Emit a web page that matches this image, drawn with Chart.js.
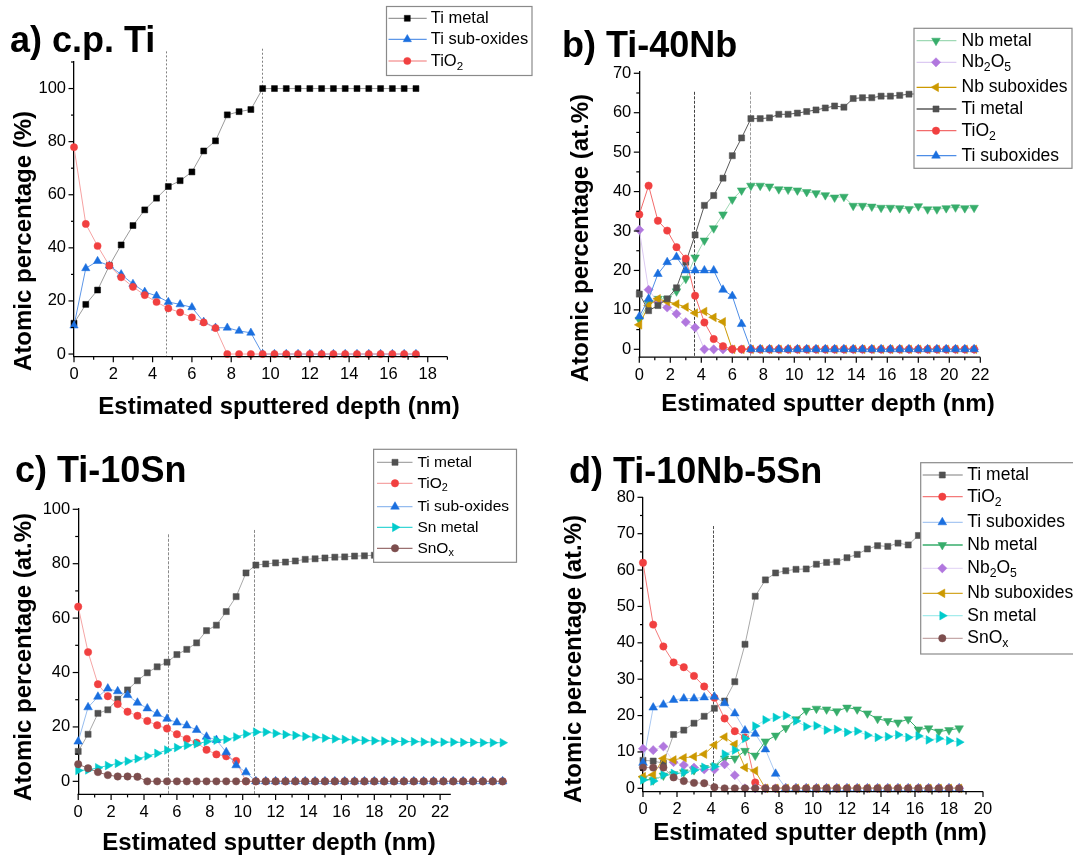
<!DOCTYPE html>
<html>
<head>
<meta charset="utf-8">
<script src="https://cdn.jsdelivr.net/npm/chart.js@4.4.1/dist/chart.umd.min.js"></script>
<style>
  html, body { margin: 0; padding: 0; background: #fff; }
  #fig { position: relative; width: 1073px; height: 859px; overflow: hidden; background: #fff; }
  #fig canvas { position: absolute; }
</style>
</head>
<body>
<div id="fig">
  <canvas id="pa" width="536" height="430" style="left:0px;top:0px;width:536px;height:430px"></canvas>
  <canvas id="pb" width="537" height="430" style="left:536px;top:0px;width:537px;height:430px"></canvas>
  <canvas id="pc" width="536" height="429" style="left:0px;top:430px;width:536px;height:429px"></canvas>
  <canvas id="pd" width="537" height="429" style="left:536px;top:430px;width:537px;height:429px"></canvas>
</div>
<script>
// ---------- depth axes (nm) ----------
const depthA = [0, 0.6, 1.2, 1.8, 2.4, 3, 3.6, 4.2, 4.8, 5.4, 6, 6.6, 7.2, 7.8, 8.4, 9, 9.6, 10.2, 10.8, 11.4,
  12, 12.6, 13.2, 13.8, 14.4, 15, 15.6, 16.2, 16.8, 17.4];
const depthB = [0, 0.6, 1.2, 1.8, 2.4, 3, 3.6, 4.2, 4.8, 5.4, 6, 6.6, 7.2, 7.8, 8.4, 9, 9.6, 10.2, 10.8, 11.4,
  12, 12.6, 13.2, 13.8, 14.4, 15, 15.6, 16.2, 16.8, 17.4, 18, 18.6, 19.2, 19.8, 20.4, 21, 21.6];
const depthC = [0, 0.6, 1.2, 1.8, 2.4, 3, 3.6, 4.2, 4.8, 5.4, 6, 6.6, 7.2, 7.8, 8.4, 9, 9.6, 10.2, 10.8, 11.4,
  12, 12.6, 13.2, 13.8, 14.4, 15, 15.6, 16.2, 16.8, 17.4, 18, 18.6, 19.2, 19.8, 20.4, 21, 21.6,
  22.2, 22.8, 23.4, 24, 24.6, 25.2, 25.8];
const depthD = [0, 0.6, 1.2, 1.8, 2.4, 3, 3.6, 4.2, 4.8, 5.4, 6, 6.6, 7.2, 7.8, 8.4, 9, 9.6, 10.2, 10.8, 11.4,
  12, 12.6, 13.2, 13.8, 14.4, 15, 15.6, 16.2, 16.8, 17.4, 18, 18.6];

// ---------- a) c.p. Ti ----------
const tiMetalA = [11.6, 18.7, 24.1, 33.3, 41.1, 48.4, 54.3, 58.7, 63.1, 65.3, 68.6, 76.5, 80.3, 90.1, 91.3, 92.1,
  100, 100, 100, 100, 100, 100, 100, 100, 100, 100, 100, 100, 100, 100];
const tiSubA = [10.7, 32.3, 35.0, 33.3, 30.0, 26.4, 23.4, 21.9, 19.6, 18.7, 17.6, 12.1, 9.9, 9.9, 8.7, 8.0,
  0, 0, 0, 0, 0, 0, 0, 0, 0, 0, 0, 0, 0, 0];
const tio2A = [77.9, 49.0, 40.7, 33.3, 28.9, 25.3, 22.2, 19.6, 17.2, 15.7, 13.8, 11.9, 9.8,
  0, 0, 0, 0, 0, 0, 0, 0, 0, 0, 0, 0, 0, 0, 0, 0, 0];

// ---------- b) Ti-40Nb ----------
const nbMetalB = [7.5, 11.7, 12.8, 12.8, 14.7, 17.9, 23.3, 27.6, 30.7, 34.2, 38.0, 40.3, 41.5, 41.5, 41.3, 40.6,
  40.5, 40.3, 39.9, 39.6, 39.1, 38.5, 38.7, 36.4, 36.4, 36.2, 35.9, 35.9, 35.8, 35.6, 36.3, 35.5, 35.5, 35.8,
  36.0, 35.8, 35.9];
const nb2o5B = [30.3, 15.1, 12.0, 10.6, 9.0, 6.9, 5.5, 0, 0, 0, 0, 0, 0, 0, 0, 0, 0, 0, 0, 0, 0, 0, 0, 0, 0, 0,
  0, 0, 0, 0, 0, 0, 0, 0, 0, 0, 0];
const nbSubB = [6.2, 11.1, 12.8, 12.1, 11.5, 10.7, 9.2, 9.6, 8.1, 7.0, 0, 0, 0, 0, 0, 0, 0, 0, 0, 0, 0, 0, 0, 0,
  0, 0, 0, 0, 0, 0, 0, 0, 0, 0, 0, 0, 0];
const tiMetalB = [14.0, 9.8, 11.1, 12.8, 15.6, 22.1, 29.0, 36.5, 39.0, 43.4, 49.1, 53.6, 58.5, 58.5, 58.7, 59.6,
  59.6, 59.9, 60.3, 60.7, 61.2, 61.7, 61.4, 63.6, 63.8, 63.8, 64.2, 64.2, 64.4, 64.7, 64.8, 65.0, 65.1, 65.2,
  65.3, 65.4, 65.5];
const tio2B = [34.2, 41.5, 32.6, 30.1, 25.9, 23.0, 13.6, 6.8, 2.6, 0.8, 0, 0, 0, 0, 0, 0, 0, 0, 0, 0, 0, 0, 0, 0,
  0, 0, 0, 0, 0, 0, 0, 0, 0, 0, 0, 0, 0];
const tiSubB = [8.3, 12.8, 19.1, 22.1, 23.4, 20.0, 20.0, 20.0, 20.0, 15.1, 13.5, 6.4, 0, 0, 0, 0, 0, 0, 0, 0, 0,
  0, 0, 0, 0, 0, 0, 0, 0, 0, 0, 0, 0, 0, 0, 0, 0];

// ---------- c) Ti-10Sn ----------
const tiMetalC = [11.0, 17.3, 25.0, 26.3, 30.2, 33.6, 37.0, 39.9, 42.1, 43.8, 46.6, 48.5, 50.9, 55.4, 57.4, 62.4,
  67.9, 76.6, 79.5, 79.9, 80.3, 80.6, 81.0, 81.6, 81.8, 82.1, 82.4, 82.5, 82.8, 82.9, 83.1, 83.2, 83.3, 83.4,
  83.5, 83.6, 83.7, 83.8, 83.9, 84.0, 84.0, 84.1, 84.2, 84.2];
const tio2C = [64.2, 47.5, 35.7, 31.3, 28.4, 25.6, 24.1, 22.2, 20.6, 19.4, 17.3, 15.6, 14.2, 11.6, 9.9, 9.2, 7.5,
  0, 0, 0, 0, 0, 0, 0, 0, 0, 0, 0, 0, 0, 0, 0, 0, 0, 0, 0, 0, 0, 0, 0, 0, 0, 0, 0];
const tiSubC = [14.6, 27.2, 31.1, 34.1, 33.1, 31.7, 28.9, 26.8, 24.8, 23.0, 21.6, 20.5, 18.9, 16.4, 15.2, 10.7,
  5.9, 3.3, 0, 0, 0, 0, 0, 0, 0, 0, 0, 0, 0, 0, 0, 0, 0, 0, 0, 0, 0, 0, 0, 0, 0, 0, 0, 0];
const snMetalC = [4.0, 4.2, 5.0, 5.8, 6.6, 7.4, 8.3, 9.3, 10.3, 11.5, 12.4, 13.2, 13.8, 14.6, 15.1, 15.4, 16.3,
  17.4, 18.1, 18.1, 17.6, 17.2, 16.9, 16.5, 16.2, 15.9, 15.6, 15.4, 15.2, 15.0, 14.9, 14.8, 14.7, 14.6, 14.6,
  14.5, 14.4, 14.4, 14.4, 14.3, 14.3, 14.2, 14.2, 14.2];
const snOxC = [6.3, 4.8, 3.4, 2.3, 1.8, 1.8, 1.7, 0, 0, 0, 0, 0, 0, 0, 0, 0, 0, 0, 0, 0, 0, 0, 0, 0, 0, 0, 0, 0,
  0, 0, 0, 0, 0, 0, 0, 0, 0, 0, 0, 0, 0, 0, 0, 0];

// ---------- d) Ti-10Nb-5Sn ----------
const tiMetalD = [7.7, 7.5, 6.9, 14.8, 16.0, 17.9, 19.8, 22.0, 24.0, 29.3, 39.6, 52.8, 57.3, 59.2, 59.8, 60.2,
  60.3, 61.6, 62.1, 62.3, 63.4, 64.3, 65.8, 66.7, 66.5, 67.4, 66.9, 69.5, 69.8, 70.2, 70.5, 70.9];
const tio2D = [62.0, 45.0, 39.0, 34.6, 33.3, 30.9, 28.0, 24.9, 19.2, 15.7, 14.0, 1.6, 0, 0, 0, 0, 0, 0, 0, 0, 0,
  0, 0, 0, 0, 0, 0, 0, 0, 0, 0, 0];
const tiSubD = [7.0, 22.2, 23.0, 24.3, 24.7, 24.7, 25.0, 25.2, 23.4, 20.6, 15.9, 15.0, 10.7, 4.0, 0, 0, 0, 0, 0,
  0, 0, 0, 0, 0, 0, 0, 0, 0, 0, 0, 0, 0];
const nbMetalD = [2.6, 2.2, 3.5, 3.9, 4.4, 5.0, 5.6, 6.1, 8.2, 8.2, 10.3, 9.0, 12.9, 14.5, 16.6, 19.0, 21.4, 21.9,
  21.7, 21.2, 22.2, 21.7, 20.6, 19.1, 18.5, 18.1, 19.0, 16.2, 16.5, 15.6, 16.0, 16.5];
const nb2o5D = [10.9, 10.5, 11.5, 7.2, 6.4, 5.7, 5.2, 5.2, 6.6, 3.6, 0, 0, 0, 0, 0, 0, 0, 0, 0, 0, 0, 0, 0, 0, 0,
  0, 0, 0, 0, 0, 0, 0];
const nbSubD = [3.2, 3.7, 8.2, 7.8, 8.4, 8.7, 9.4, 11.9, 14.1, 12.1, 5.7, 4.8, 0, 0, 0, 0, 0, 0, 0, 0, 0, 0, 0, 0,
  0, 0, 0, 0, 0, 0, 0, 0];
const snMetalD = [2.3, 2.0, 3.7, 4.1, 4.4, 5.0, 5.8, 6.0, 9.4, 10.5, 13.7, 17.1, 18.8, 19.5, 20.0, 18.5, 17.0,
  17.2, 16.0, 16.2, 15.4, 15.7, 14.6, 14.0, 14.2, 14.7, 14.0, 14.4, 13.3, 13.7, 13.1, 12.7];
const snOxD = [5.7, 5.7, 5.7, 3.0, 2.0, 1.5, 1.4, 0.3, 0, 0, 0, 0, 0, 0, 0, 0, 0, 0, 0, 0, 0, 0, 0, 0, 0, 0, 0, 0,
  0, 0, 0, 0];

// ---------- tick labels ----------
const xTicksA = [0, 2, 4, 6, 8, 10, 12, 14, 16, 18];
const yTicksA = [0, 20, 40, 60, 80, 100];
const xTicksB = [0, 2, 4, 6, 8, 10, 12, 14, 16, 18, 20, 22];
const yTicksB = [0, 10, 20, 30, 40, 50, 60, 70];
const xTicksC = [0, 2, 4, 6, 8, 10, 12, 14, 16, 18, 20, 22];
const yTicksC = [0, 20, 40, 60, 80, 100];
const xTicksD = [0, 2, 4, 6, 8, 10, 12, 14, 16, 18, 20];
const yTicksD = [0, 10, 20, 30, 40, 50, 60, 70, 80];

// ---------- styling ----------
const FONT = "'Liberation Sans', Arial, Helvetica, sans-serif";
const C = {
  ti: '#515151', tio2: '#F14040', tisub: '#1A6FDF', nb: '#37AD6B',
  nb2o5: '#B177DE', nbsub: '#CC9900', sn: '#00CBCC', snox: '#7D4E4E'
};
const MARK = {
  square: { pointStyle: 'rect', radius: 4.3, rotation: 0 },
  circle: { pointStyle: 'circle', radius: 3.7, rotation: 0 },
  up:     { pointStyle: 'triangle', radius: 5.0, rotation: 0 },
  down:   { pointStyle: 'triangle', radius: 5.0, rotation: 180 },
  left:   { pointStyle: 'triangle', radius: 5.0, rotation: 270 },
  right:  { pointStyle: 'triangle', radius: 5.0, rotation: 90 },
  diamond:{ pointStyle: 'rectRot', radius: 4.6, rotation: 0 }
};

function series(label, xs, ys, color, line, mark) {
  return { label, xs, ys, color, line, mark };
}

// minor ticks halfway between labelled ticks, plus one past the last when the axis reaches it
function minors(major, max) {
  const out = [];
  const step = major[1] - major[0];
  for (let i = 0; i < major.length; i++) {
    const m = major[i] + step / 2;
    if (m <= max + 1e-9) out.push(m);
  }
  return out;
}

// text with one-character subscripts written as _x
function drawRich(ctx, str, x, y, size, weight, align) {
  const parts = [];
  for (let i = 0; i < str.length; i++) {
    if (str[i] === '_') { parts.push({ t: str[i + 1], sub: true }); i++; }
    else if (parts.length && !parts[parts.length - 1].sub) parts[parts.length - 1].t += str[i];
    else parts.push({ t: str[i], sub: false });
  }
  const subSize = size * 0.7;
  let w = 0;
  parts.forEach(p => {
    ctx.font = `${weight} ${p.sub ? subSize : size}px ${FONT}`;
    p.w = ctx.measureText(p.t).width;
    w += p.w;
  });
  let cx = align === 'center' ? x - w / 2 : x;
  ctx.textAlign = 'left';
  ctx.textBaseline = 'middle';
  parts.forEach(p => {
    ctx.font = `${weight} ${p.sub ? subSize : size}px ${FONT}`;
    ctx.fillText(p.t, cx, p.sub ? y + size * 0.33 : y);
    cx += p.w;
  });
}

function drawMarker(ctx, mark, color, x, y) {
  ctx.save();
  ctx.fillStyle = color;
  ctx.strokeStyle = color;
  ctx.lineWidth = 0.5;
  Chart.helpers.drawPoint(ctx, { pointStyle: mark.pointStyle, radius: mark.radius, rotation: mark.rotation, borderWidth: 0.5 }, x, y);
  ctx.restore();
}

function buildPanel(p) {
  const n = p.series.length;
  const axisEnd = p.xAxisEnd !== undefined ? p.xAxisEnd : p.xMax;
  const datasets = p.series.map((s, i) => ({
    label: s.label,
    data: s.xs.map((x, k) => ({ x, y: s.ys[k] })),
    showLine: true,
    borderColor: s.line,
    borderWidth: 1,
    backgroundColor: s.color,
    pointBackgroundColor: s.color,
    pointBorderColor: s.color,
    pointBorderWidth: 0.5,
    pointStyle: s.mark.pointStyle,
    pointRadius: s.mark.radius,
    pointRotation: s.mark.rotation,
    pointHoverRadius: s.mark.radius,
    tension: 0,
    clip: false,
    order: n - i
  }));

  const decor = {
    id: 'decor_' + p.id,
    beforeDatasetsDraw(chart) {
      const { ctx, chartArea: a, scales: { x, y } } = chart;
      ctx.save();
      p.vlines.forEach(v => {
        const px = Math.round(x.getPixelForValue(v.x)) + 0.5;
        ctx.strokeStyle = v.color;
        ctx.lineWidth = 1;
        ctx.setLineDash(v.dash);
        ctx.beginPath();
        ctx.moveTo(px, y.getPixelForValue(v.top));
        ctx.lineTo(px, a.bottom);
        ctx.stroke();
      });
      ctx.restore();
    },
    afterDraw(chart) {
      const { ctx, chartArea: a, scales: { x, y } } = chart;
      ctx.save();
      // bottom axis line, which may stop short of the plotted data
      ctx.strokeStyle = '#000';
      ctx.lineWidth = 1.3;
      ctx.setLineDash([]);
      ctx.beginPath();
      ctx.moveTo(a.left - 0.65, a.bottom);
      ctx.lineTo(x.getPixelForValue(axisEnd), a.bottom);
      ctx.stroke();

      // outward tick marks
      ctx.lineWidth = 1.2;
      const tick = (x1, y1, x2, y2) => { ctx.beginPath(); ctx.moveTo(x1, y1); ctx.lineTo(x2, y2); ctx.stroke(); };
      p.xTicks.forEach(v => { const px = x.getPixelForValue(v); tick(px, a.bottom, px, a.bottom + 5.5); });
      minors(p.xTicks, axisEnd).forEach(v => { const px = x.getPixelForValue(v); tick(px, a.bottom, px, a.bottom + 3); });
      p.yTicks.forEach(v => { const py = y.getPixelForValue(v); tick(a.left, py, a.left - 5.5, py); });
      minors(p.yTicks, p.yMax).forEach(v => { const py = y.getPixelForValue(v); tick(a.left, py, a.left - 3, py); });

      // panel heading and axis titles
      ctx.fillStyle = '#000';
      ctx.font = `bold 36px ${FONT}`;
      ctx.textAlign = 'left';
      ctx.textBaseline = 'alphabetic';
      ctx.fillText(p.title.text, p.title.x, p.title.y);
      ctx.font = `bold 24px ${FONT}`;
      ctx.textAlign = 'center';
      ctx.textBaseline = 'middle';
      ctx.fillText(p.xTitle.text, p.xTitle.x, p.xTitle.y);
      ctx.save();
      ctx.translate(p.yTitle.x, p.yTitle.y);
      ctx.rotate(-Math.PI / 2);
      ctx.fillText(p.yTitle.text, 0, 0);
      ctx.restore();

      // legend box drawn over the plot
      const L = p.legend;
      ctx.fillStyle = '#fff';
      ctx.fillRect(L.box[0], L.box[1], L.box[2] - L.box[0], L.box[3] - L.box[1]);
      ctx.strokeStyle = '#8a8a8a';
      ctx.lineWidth = 1.2;
      ctx.strokeRect(L.box[0], L.box[1], L.box[2] - L.box[0], L.box[3] - L.box[1]);
      p.series.forEach((s, i) => {
        const ry = L.rows[i];
        ctx.strokeStyle = s.line;
        ctx.lineWidth = 1.3;
        ctx.beginPath(); ctx.moveTo(L.line[0], ry); ctx.lineTo(L.line[1], ry); ctx.stroke();
        drawMarker(ctx, s.mark, s.color, L.mark, ry);
        ctx.fillStyle = '#000';
        drawRich(ctx, s.label, L.text, ry, L.size, 'normal', 'left');
      });
      ctx.restore();
    }
  };

  const scaleBase = (min, max, ticks, isY, fitSize) => ({
    type: 'linear',
    min, max,
    grid: { display: false, drawTicks: false },
    border: { display: isY, color: '#000', width: 1.3 },
    ticks: {
      color: '#000',
      font: { family: FONT, size: 16.5 },
      padding: 8,
      autoSkip: false,
      maxRotation: 0
    },
    afterBuildTicks: (axis) => { axis.ticks = ticks.map(v => ({ value: v })); },
    afterFit: (axis) => { if (isY) axis.width = fitSize; else axis.height = fitSize; }
  });

  new Chart(document.getElementById(p.id), {
    type: 'scatter',
    data: { datasets },
    options: {
      responsive: false,
      animation: false,
      devicePixelRatio: 1,
      layout: { padding: p.pad },
      plugins: { legend: { display: false }, tooltip: { enabled: false }, title: { display: false } },
      scales: {
        x: scaleBase(p.xMin, p.xMax, p.xTicks, false, 60),
        y: scaleBase(p.yMin, p.yMax, p.yTicks, true, 74)
      }
    },
    plugins: [decor]
  });
}

const panels = [
  {
    id: 'pa', pad: { left: 0, top: 62, right: 88.6, bottom: 13.3 },
    xMin: 0, xMax: 19, yMin: -1, yMax: 110, xTicks: xTicksA, yTicks: yTicksA,
    title: { text: 'a) c.p. Ti', x: 10, y: 52 },
    yTitle: { text: 'Atomic percentage (%)', x: 24, y: 241 },
    xTitle: { text: 'Estimated sputtered depth (nm)', x: 279, y: 407 },
    legend: { box: [386.5, 6.5, 532, 75.5], rows: [18.3, 39.3, 61], line: [388.5, 426.7], mark: 407.3, text: 430.7, size: 16.5 },
    vlines: [{ x: 4.67, top: 114, color: '#808080', dash: [2, 2] }, { x: 9.57, top: 115, color: '#808080', dash: [2, 2] }],
    series: [
      series('Ti metal', depthA, tiMetalA, '#000000', '#9a9a9a', { ...MARK.square, radius: 4.2 }),
      series('Ti sub-oxides', depthA, tiSubA, C.tisub, '#5e97e8', { ...MARK.up, radius: 4.8 }),
      series('TiO_2', depthA, tio2A, C.tio2, '#f6a2a2', { ...MARK.circle, radius: 3.6 })
    ]
  },
  {
    id: 'pb', pad: { left: 29.3, top: 71.7, right: 92.7, bottom: 12.8 },
    xMin: 0, xMax: 22, yMin: -2, yMax: 70.4, xTicks: xTicksB, yTicks: yTicksB,
    title: { text: 'b) Ti-40Nb', x: 26, y: 57 },
    yTitle: { text: 'Atomic percentage (at.%)', x: 45, y: 238 },
    xTitle: { text: 'Estimated sputter depth (nm)', x: 292, y: 404 },
    legend: { box: [378, 28.3, 536, 168.3], rows: [40.7, 62.3, 87.3, 109, 130.7, 155.7], line: [380.6, 420.4], mark: 400, text: 425.5, size: 17.5 },
    vlines: [{ x: 3.55, top: 65.3, color: '#404040', dash: [3, 1.5] }, { x: 7.17, top: 65.3, color: '#9a9a9a', dash: [3, 1.5] }],
    series: [
      series('Nb metal', depthB, nbMetalB, C.nb, '#9fd9b5', MARK.down),
      series('Nb_2O_5', depthB, nb2o5B, C.nb2o5, '#dccaf2', MARK.diamond),
      series('Nb suboxides', depthB, nbSubB, C.nbsub, '#cc9900', MARK.left),
      series('Ti metal', depthB, tiMetalB, C.ti, '#5a5a5a', MARK.square),
      series('TiO_2', depthB, tio2B, C.tio2, '#f26b6b', MARK.circle),
      series('Ti suboxides', depthB, tiSubB, C.tisub, '#4d8de6', MARK.up)
    ]
  },
  {
    // plot area runs past the drawn axis so the deepest points stay visible
    id: 'pc', pad: { left: 4.2, top: 78.2, right: 23.5, bottom: 4.6 },
    xMin: 0, xMax: 26.4, xAxisEnd: 22.65, yMin: -4.8, yMax: 100.4, xTicks: xTicksC, yTicks: yTicksC,
    title: { text: 'c) Ti-10Sn', x: 15, y: 52 },
    yTitle: { text: 'Atomic percentage (at.%)', x: 24, y: 227 },
    xTitle: { text: 'Estimated sputter depth (nm)', x: 269, y: 413 },
    legend: { box: [373.6, 19.3, 516.5, 132.3], rows: [32.3, 53.3, 76.7, 97.3, 118.3], line: [377, 412.5], mark: 395, text: 417.4, size: 15.5 },
    vlines: [{ x: 5.44, top: 90.8, color: '#8a8a8a', dash: [3, 1.5] }, { x: 10.66, top: 92.4, color: '#8a8a8a', dash: [3, 1.5] }],
    series: [
      series('Ti metal', depthC, tiMetalC, C.ti, '#a8a8a8', MARK.square),
      series('TiO_2', depthC, tio2C, C.tio2, '#f5a5a5', MARK.circle),
      series('Ti sub-oxides', depthC, tiSubC, C.tisub, '#95bcef', MARK.up),
      series('Sn metal', depthC, snMetalC, C.sn, '#3ad6d6', MARK.right),
      series('SnO_x', depthC, snOxC, C.snox, '#9a7070', MARK.circle)
    ]
  },
  {
    id: 'pd', pad: { left: 33, top: 67.3, right: 90, bottom: 7.4 },
    xMin: 0, xMax: 20, yMin: -0.9, yMax: 80, xTicks: xTicksD, yTicks: yTicksD,
    title: { text: 'd) Ti-10Nb-5Sn', x: 33, y: 53 },
    yTitle: { text: 'Atomic percentage (at.%)', x: 38, y: 229 },
    xTitle: { text: 'Estimated sputter depth (nm)', x: 284, y: 403 },
    legend: { box: [384.7, 32.7, 560, 224], rows: [45, 66.7, 92.3, 115, 138.3, 163.3, 185.7, 208.3], line: [386.7, 426.7], mark: 406.3, text: 431.3, size: 17.5 },
    vlines: [{ x: 4.14, top: 72.1, color: '#505050', dash: [3, 1.5] }],
    series: [
      series('Ti metal', depthD, tiMetalD, C.ti, '#a8a8a8', MARK.square),
      series('TiO_2', depthD, tio2D, C.tio2, '#f47a7a', MARK.circle),
      series('Ti suboxides', depthD, tiSubD, C.tisub, '#a9c8f2', MARK.up),
      series('Nb metal', depthD, nbMetalD, C.nb, '#37AD6B', MARK.down),
      series('Nb_2O_5', depthD, nb2o5D, C.nb2o5, '#e6daf6', MARK.diamond),
      series('Nb suboxides', depthD, nbSubD, C.nbsub, '#d4a829', MARK.left),
      series('Sn metal', depthD, snMetalD, C.sn, '#a5ecec', MARK.right),
      series('SnO_x', depthD, snOxD, C.snox, '#c5a9a9', MARK.circle)
    ]
  }
];

panels.forEach(buildPanel);
</script>
</body>
</html>
